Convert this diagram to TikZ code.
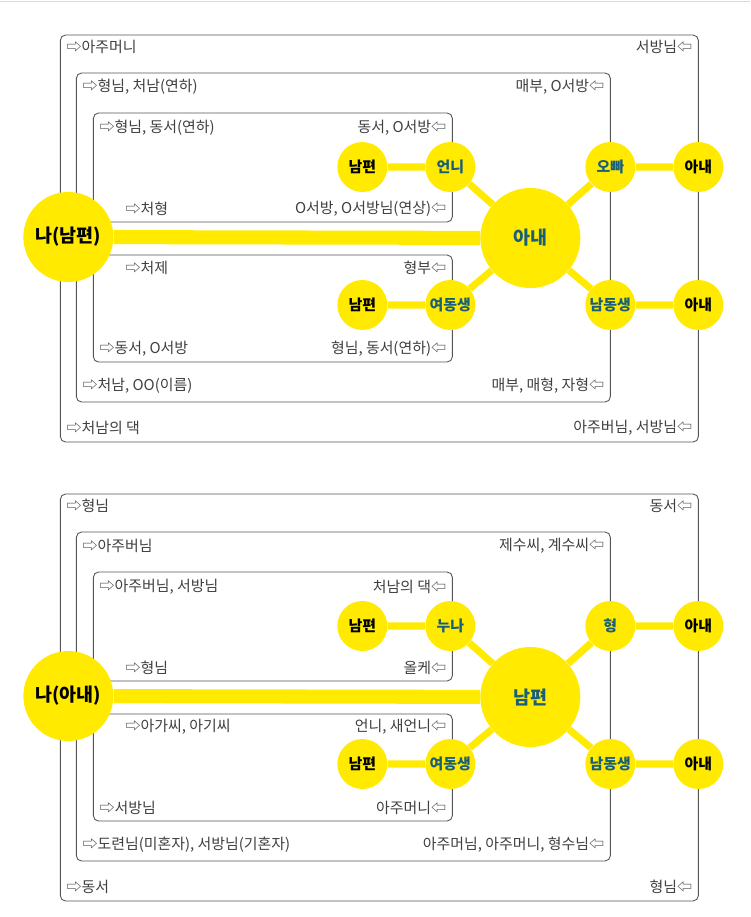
\documentclass[tikz,border=0pt]{standalone}
\usepackage{fontspec}
\setmainfont{Noto Sans CJK KR}
\usetikzlibrary{backgrounds}
\definecolor{yel}{HTML}{FFEA00}
\definecolor{blu}{HTML}{1A5F7A}
\definecolor{frm}{HTML}{555555}
\tikzset{
  frame/.style={draw=frm,line width=0.5pt,rounded corners=3pt},
  lbl/.style={font=\fontsize{8.5}{9}\selectfont,text=black!75,inner sep=0pt},
  sm/.style={circle,fill=yel,minimum size=1cm,inner sep=0pt,font=\bfseries\fontsize{8.5}{9}\selectfont},
  bigl/.style={circle,fill=yel,minimum size=1.8cm,inner sep=0pt,font=\bfseries\fontsize{10.5}{11}\selectfont},
  bigc/.style={circle,fill=yel,minimum size=2cm,inner sep=0pt,font=\bfseries\fontsize{10.5}{11}\selectfont,text=blu},
  bar/.style={yel,line width=8pt},
  spoke/.style={yel,line width=4pt},
}
\newcommand{\onediagram}[5]{%
\begin{pgfonlayer}{background}
\draw[frame] (60,35) rectangle (698,442);
\draw[frame] (76,73) rectangle (610,402);
\draw[frame] (93,113) rectangle (452,222);
\draw[frame] (93,255) rectangle (452,362);
\end{pgfonlayer}
\node[bigl] (#1L) at (68,237) {#2};
\node[bigc] (#1C) at (530,238) {#3};
\node[sm] (#1a) at (362,167) {남편};
\node[sm,text=blu] (#1b) at (450,167) {#4};
\node[sm,text=blu] (#1c) at (610,167) {#5};
\node[sm] (#1d) at (698,167) {아내};
\node[sm] (#1e) at (362,305) {남편};
\node[sm,text=blu] (#1f) at (450,305) {여동생};
\node[sm,text=blu] (#1g) at (610,305) {남동생};
\node[sm] (#1h) at (698,305) {아내};
\begin{pgfonlayer}{background}
\draw[bar] (#1L) -- (#1C);
\draw[spoke] (#1a) -- (#1b) (#1b) -- (#1C) (#1C) -- (#1c) (#1c) -- (#1d);
\draw[spoke] (#1e) -- (#1f) (#1f) -- (#1C) (#1C) -- (#1g) (#1g) -- (#1h);
\end{pgfonlayer}
}
\begin{document}
\begin{tikzpicture}[x=0.02cm,y=-0.02cm]
\begin{pgfonlayer}{background}
\fill[white] (0,0) rectangle (750,917);
\draw[black!15] (0,1) -- (750,1);
\end{pgfonlayer}
% top
\onediagram{t}{나(남편)}{아내}{언니}{오빠}
\node[lbl,anchor=west] (t1) at (66,47) {⇨아주머니};
\node[lbl,anchor=east] (t2) at (692,47) {서방님⇦};
\node[lbl,anchor=west] (t3) at (66,428) {⇨처남의 댁};
\node[lbl,anchor=east] (t4) at (692,428) {아주버님, 서방님⇦};
\node[lbl,anchor=west] (t5) at (82,87) {⇨형님, 처남(연하)};
\node[lbl,anchor=east] (t6) at (604,87) {매부, O서방⇦};
\node[lbl,anchor=west] (t7) at (82,386) {⇨처남, OO(이름)};
\node[lbl,anchor=east] (t8) at (604,386) {매부, 매형, 자형⇦};
\node[lbl,anchor=west] (t9) at (99,128) {⇨형님, 동서(연하)};
\node[lbl,anchor=east] (t10) at (446,128) {동서, O서방⇦};
\node[lbl,anchor=west] (t11) at (125,209) {⇨처형};
\node[lbl,anchor=east] (t12) at (446,209) {O서방, O서방님(연상)⇦};
\node[lbl,anchor=west] (t13) at (125,268) {⇨처제};
\node[lbl,anchor=east] (t14) at (446,268) {형부⇦};
\node[lbl,anchor=west] (t15) at (99,349) {⇨동서, O서방};
\node[lbl,anchor=east] (t16) at (446,349) {형님, 동서(연하)⇦};
% bottom
\begin{scope}[shift={(0,459)}]
\onediagram{b}{나(아내)}{남편}{누나}{형}
\node[lbl,anchor=west] (b1) at (66,47) {⇨형님};
\node[lbl,anchor=east] (b2) at (692,47) {동서⇦};
\node[lbl,anchor=west] (b3) at (66,428) {⇨동서};
\node[lbl,anchor=east] (b4) at (692,428) {형님⇦};
\node[lbl,anchor=west] (b5) at (82,87) {⇨아주버님};
\node[lbl,anchor=east] (b6) at (604,87) {제수씨, 계수씨⇦};
\node[lbl,anchor=west] (b7) at (82,386) {⇨도련님(미혼자), 서방님(기혼자)};
\node[lbl,anchor=east] (b8) at (604,386) {아주머님, 아주머니, 형수님⇦};
\node[lbl,anchor=west] (b9) at (99,128) {⇨아주버님, 서방님};
\node[lbl,anchor=east] (b10) at (446,128) {처남의 댁⇦};
\node[lbl,anchor=west] (b11) at (125,209) {⇨형님};
\node[lbl,anchor=east] (b12) at (446,209) {올케⇦};
\node[lbl,anchor=west] (b13) at (125,268) {⇨아가씨, 아기씨};
\node[lbl,anchor=east] (b14) at (446,268) {언니, 새언니⇦};
\node[lbl,anchor=west] (b15) at (99,349) {⇨서방님};
\node[lbl,anchor=east] (b16) at (446,349) {아주머니⇦};
\end{scope}
\end{tikzpicture}
\end{document}
